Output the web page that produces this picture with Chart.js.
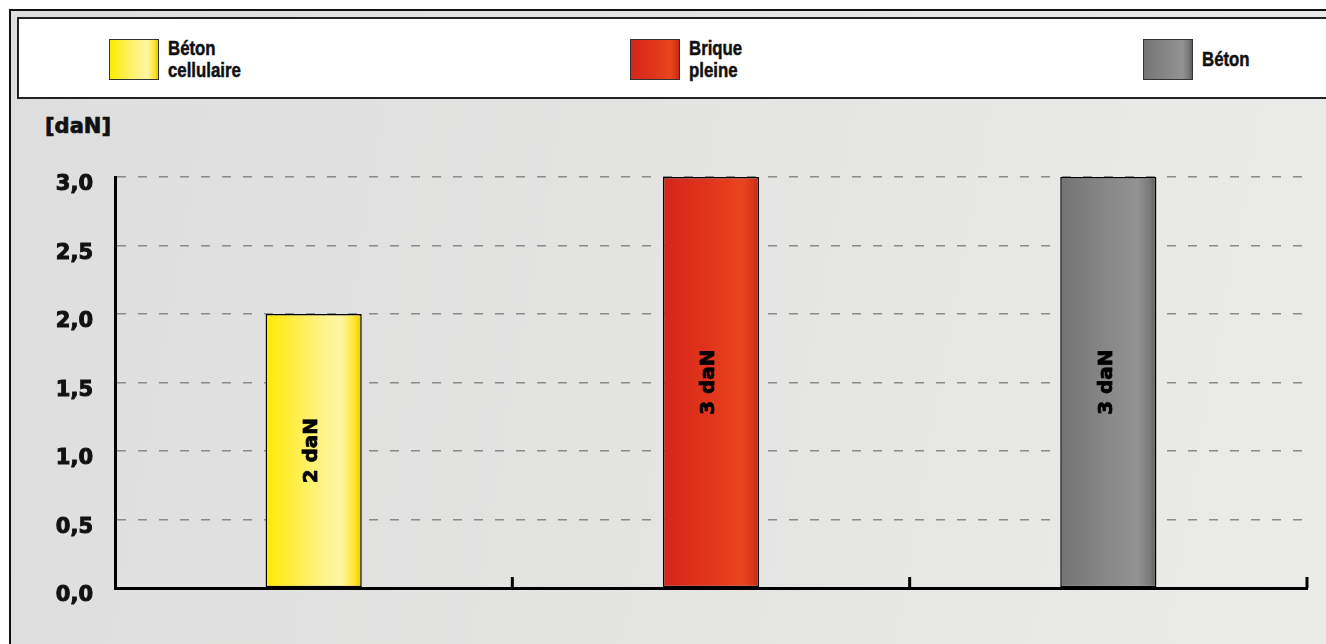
<!DOCTYPE html>
<html>
<head>
<meta charset="utf-8">
<script src="https://cdn.jsdelivr.net/npm/chart.js@4/dist/chart.umd.min.js"></script>
<style>
  html, body { margin: 0; padding: 0; background: #fff; width: 1326px; height: 644px; overflow: hidden; }
  #frame {
    position: absolute; left: 9px; top: 9px; width: 1317px; height: 700px;
    border: 2px solid #111; border-right: none; box-sizing: border-box;
    background: linear-gradient(100deg, #dedede 0%, #e3e3e2 45%, #ebebe9 100%);
  }
  #legend {
    position: absolute; left: 17px; top: 17px; width: 1309px; height: 82px;
    border: 2px solid #222; border-right: none; box-sizing: border-box; background: #fff;
  }
  .item { position: absolute; top: 19px; height: 42px; display: flex; align-items: center; }
  .swatch { width: 48px; height: 39px; border: 1px solid #333; margin-right: 9px; flex: none; }
  .txt {
    font-family: "Liberation Sans", Arial, sans-serif; font-weight: bold;
    font-size: 21px; line-height: 22px; color: #111; -webkit-text-stroke: 0.5px #111;
    transform: scaleX(0.8); transform-origin: left center; white-space: nowrap;
  }
  #unit {
    position: absolute; left: 45px; top: 114px;
    font-family: "DejaVu Sans", sans-serif; font-weight: bold; font-size: 21px; color: #111;
    -webkit-text-stroke: 0.7px #111;
  }
  #wrap { position: absolute; left: 0; top: 0; width: 1326px; height: 644px; }
</style>
</head>
<body>
<div id="frame"></div>
<div id="legend"></div>
<div id="unit">[daN]</div>
<div id="wrap"><canvas id="chart"></canvas></div>
<script>
// data
const categories = ['Béton cellulaire', 'Brique pleine', 'Béton'];
const legendLines = [['Béton', 'cellulaire'], ['Brique', 'pleine'], ['Béton']];
const values = [2, 3, 3];
const valueLabels = ['2 daN', '3 daN', '3 daN'];
const yMin = 0, yMax = 3, yStep = 0.5;

// bar colour ramps (left -> right)
const ramps = [
    [[0, '#ffea00'], [0.45, '#fff06a'], [0.78, '#fff6a6'], [0.92, '#ffe630'], [1, '#e8c800']],
    [[0, '#d4261a'], [0.5, '#e1361c'], [0.82, '#e9451f'], [0.94, '#d8361a'], [1, '#b82a16']],
    [[0, '#747474'], [0.45, '#868686'], [0.8, '#939393'], [0.93, '#7a7a7a'], [1, '#5e5e5e']]
];
const legendLeft = [90, 611, 1124];

// html legend
const legend = document.getElementById('legend');
categories.forEach((c, i) => {
    const item = document.createElement('div');
    item.className = 'item';
    item.style.left = legendLeft[i] + 'px';
    const sw = document.createElement('div');
    sw.className = 'swatch';
    sw.style.background = 'linear-gradient(90deg,' + ramps[i].map(s => s[1] + ' ' + (s[0] * 100) + '%').join(',') + ')';
    const t = document.createElement('div');
    t.className = 'txt';
    t.innerHTML = legendLines[i].join('<br>');
    item.appendChild(sw);
    item.appendChild(t);
    legend.appendChild(item);
});

const BAR_FRACTION = 0.242;

function barFill(ctx) {
    const chart = ctx.chart;
    const area = chart.chartArea;
    if (!area) return ramps[ctx.dataIndex][0][1];
    const xs = chart.scales.x;
    const cx = xs.getPixelForValue(ctx.dataIndex);
    const half = (area.width / categories.length) * BAR_FRACTION / 2;
    const g = chart.ctx.createLinearGradient(cx - half, 0, cx + half, 0);
    ramps[ctx.dataIndex].forEach(s => g.addColorStop(s[0], s[1]));
    return g;
}

// rotated value labels inside bars
const valueLabelPlugin = {
    id: 'valueLabels',
    afterDatasetsDraw(chart) {
        const ctx = chart.ctx;
        chart.getDatasetMeta(0).data.forEach((bar, i) => {
            ctx.save();
            ctx.translate(bar.x - 2, (bar.y + bar.base) / 2);
            ctx.rotate(-Math.PI / 2);
            ctx.fillStyle = '#000';
            ctx.strokeStyle = '#000';
            ctx.lineWidth = 0.8;
            ctx.font = 'bold 20px "DejaVu Sans"';
            ctx.textAlign = 'center';
            ctx.textBaseline = 'middle';
            ctx.fillText(valueLabels[i], 0, 0);
            ctx.strokeText(valueLabels[i], 0, 0);
            ctx.restore();
        });
    }
};

// upward ticks on the x axis between categories
const innerTicks = {
    id: 'innerTicks',
    afterDraw(chart) {
        const ctx = chart.ctx;
        const xs = chart.scales.x;
        const a = chart.chartArea;
        const step = a.width / categories.length;
        ctx.save();
        ctx.strokeStyle = '#000';
        ctx.lineWidth = 3;
        for (let i = 0; i < categories.length; i++) {
            const x = xs.getPixelForValue(i) + step / 2;
            ctx.beginPath();
            ctx.moveTo(x, a.bottom);
            ctx.lineTo(x, a.bottom - 11);
            ctx.stroke();
        }
        ctx.restore();
    }
};

new Chart(document.getElementById('chart'), {
    type: 'bar',
    data: {
        labels: categories,
        datasets: [{
            data: values,
            backgroundColor: barFill,
            borderColor: '#000',
            borderWidth: 1.5,
            borderSkipped: false,
            barPercentage: BAR_FRACTION,
            categoryPercentage: 1
        }]
    },
    options: {
        responsive: true,
        maintainAspectRatio: false,
        animation: false,
        layout: { padding: { left: 15, top: 177, right: 19, bottom: 56 } },
        plugins: { legend: { display: false }, tooltip: { enabled: false } },
        scales: {
            x: {
                grid: { display: false },
                ticks: { display: false },
                border: { display: true, color: '#000', width: 3 },
                afterFit(s) { s.height = 0; }
            },
            y: {
                min: yMin,
                max: yMax,
                ticks: {
                    stepSize: yStep,
                    padding: 22,
                    labelOffset: 8,
                    color: '#111',
                    textStrokeColor: '#111',
                    textStrokeWidth: 1,
                    font: { family: 'DejaVu Sans', weight: 'bold', size: 21 },
                    callback: v => v.toFixed(1).replace('.', ',')
                },
                grid: { color: '#8a8a8a', lineWidth: 1.5, drawTicks: false },
                border: { display: true, color: '#000', width: 3, dash: [9, 12] },
                afterFit(s) { s.width = 100; }
            }
        }
    },
    plugins: [valueLabelPlugin, innerTicks]
});
</script>
</body>
</html>
